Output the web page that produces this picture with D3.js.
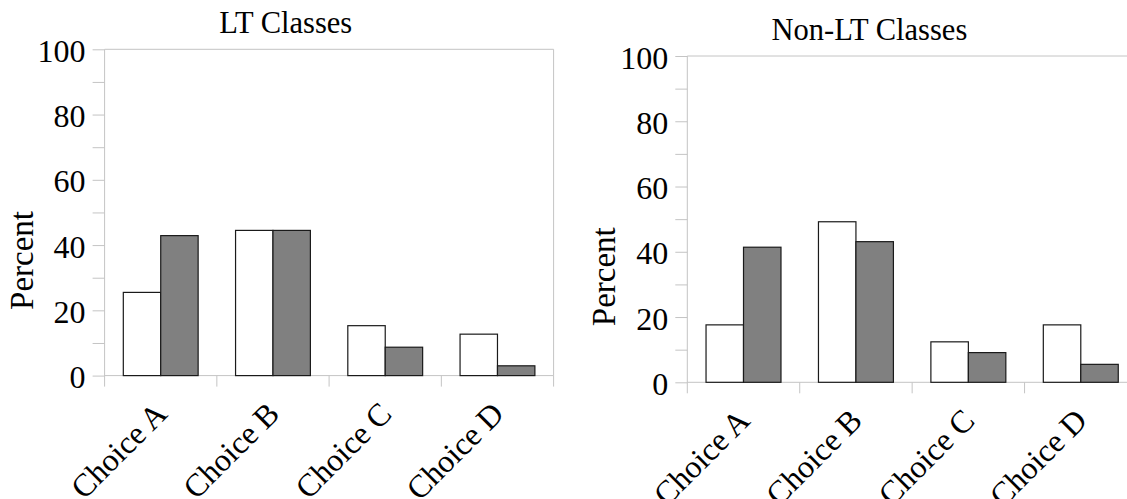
<!DOCTYPE html>
<html>
<head>
<meta charset="utf-8">
<script src="https://cdn.jsdelivr.net/npm/d3@7"></script>
<style>
  html, body { margin: 0; padding: 0; background: #fff; }
  svg { display: block; }
  text { font-family: "Liberation Serif", "Times New Roman", Times, serif; fill: #000; }
</style>
</head>
<body>
<svg id="chart" width="1127" height="499"></svg>
<script>
// Answer choices on the x axis
const categories = ["Choice A", "Choice B", "Choice C", "Choice D"];

// Percent values, white (first) and grey (second) series
const ltFirst = [25.5, 44.5, 15.3, 12.7];
const ltSecond = [42.9, 44.5, 8.7, 3.0];
const nonLtFirst = [17.6, 49.2, 12.4, 17.6];
const nonLtSecond = [41.4, 43.1, 9.1, 5.5];

// Axis tick values
const majorTicks = [0, 20, 40, 60, 80, 100];
const minorTicks = [10, 30, 50, 70, 90];

const panelTitles = ["LT Classes", "Non-LT Classes"];
const yLabel = "Percent";

const seriesFill = ["#ffffff", "#808080"];
const axisColor = "#c4c4c4";
const serif = '"Liberation Serif", "Times New Roman", Times, serif';

const svg = d3.select("#chart");

const panels = [
  { title: panelTitles[0], first: ltFirst, second: ltSecond,
    left: 104.6, right: 553.6, top: 49.3, bottom: 375.6,
    titleX: 285.7, titleY: 33.3, labelX: 33, labelY: 260.5 },
  { title: panelTitles[1], first: nonLtFirst, second: nonLtSecond,
    left: 687.3, right: 1137, top: 56, bottom: 382.3,
    titleX: 869.4, titleY: 40, labelX: 615, labelY: 276.7 }
];

panels.forEach(p => {
  const g = svg.append("g");

  const x = d3.scaleBand().domain(categories).range([p.left, p.right]).padding(0);
  const y = d3.scaleLinear().domain([0, 100]).range([p.bottom, p.top]);
  const bw = x.bandwidth();
  const inner = d3.scaleBand().domain([0, 1]).range([bw / 6, bw * 5 / 6]).padding(0);

  // frame: top and right edges
  g.append("line")
    .attr("x1", p.left).attr("x2", p.right)
    .attr("y1", y(100)).attr("y2", y(100))
    .attr("stroke", axisColor).attr("stroke-width", 1);
  g.append("line")
    .attr("x1", p.right).attr("x2", p.right)
    .attr("y1", y(100)).attr("y2", y(0))
    .attr("stroke", axisColor).attr("stroke-width", 1);

  // y axis with major and minor ticks
  const yAxis = d3.axisLeft(y)
    .tickValues(majorTicks.concat(minorTicks))
    .tickSize(12)
    .tickSizeOuter(0)
    .tickPadding(7)
    .tickFormat(d => majorTicks.includes(d) ? String(d) : "");
  const ya = g.append("g").attr("transform", `translate(${p.left},0)`).call(yAxis);
  ya.attr("font-family", serif);
  ya.select(".domain").remove();
  ya.selectAll(".tick line").attr("stroke", axisColor);
  ya.selectAll(".tick text")
    .attr("dy", "0.38em")
    .style("font-family", serif)
    .style("font-size", "32px")
    .attr("fill", "#000");

  // y axis line, extended down to the category separators
  g.append("line")
    .attr("x1", p.left).attr("x2", p.left)
    .attr("y1", y(100)).attr("y2", y(0) + 11)
    .attr("stroke", axisColor).attr("stroke-width", 1);

  // x axis baseline and category separators
  g.append("line")
    .attr("x1", p.left).attr("x2", p.right)
    .attr("y1", y(0)).attr("y2", y(0))
    .attr("stroke", axisColor).attr("stroke-width", 1);
  g.selectAll(".sep")
    .data(categories.slice(1).map(c => x(c)).concat([x(categories[categories.length - 1]) + bw]))
    .join("line")
    .attr("class", "sep")
    .attr("x1", d => d).attr("x2", d => d)
    .attr("y1", y(0)).attr("y2", y(0) + 11)
    .attr("stroke", axisColor).attr("stroke-width", 1);

  // bars
  const rows = categories.map((c, i) => ({ c, vals: [p.first[i], p.second[i]] }));
  const groups = g.selectAll(".grp").data(rows).join("g")
    .attr("class", "grp")
    .attr("transform", d => `translate(${x(d.c)},0)`);
  groups.selectAll("rect")
    .data(d => d.vals.map((v, k) => ({ v, k })))
    .join("rect")
    .attr("x", d => inner(d.k))
    .attr("width", inner.bandwidth())
    .attr("y", d => y(d.v))
    .attr("height", d => y(0) - y(d.v))
    .attr("fill", d => seriesFill[d.k])
    .attr("stroke", "#1a1a1a")
    .attr("stroke-width", 1.2);

  // rotated category labels
  g.selectAll(".xlab").data(categories).join("text")
    .attr("class", "xlab")
    .attr("text-anchor", "end")
    .attr("transform", d => `translate(${x(d) + bw / 2 + 8},${y(0) + 40}) rotate(-45)`)
    .style("font-family", serif)
    .style("font-size", "32px")
    .text(d => d);

  // panel title
  g.append("text")
    .attr("x", p.titleX).attr("y", p.titleY)
    .attr("text-anchor", "middle")
    .style("font-family", serif)
    .style("font-size", "30.5px")
    .text(p.title);

  // y axis title
  g.append("text")
    .attr("transform", `translate(${p.labelX},${p.labelY}) rotate(-90)`)
    .attr("text-anchor", "middle")
    .style("font-family", serif)
    .style("font-size", "33px")
    .text(yLabel);
});
</script>
</body>
</html>
